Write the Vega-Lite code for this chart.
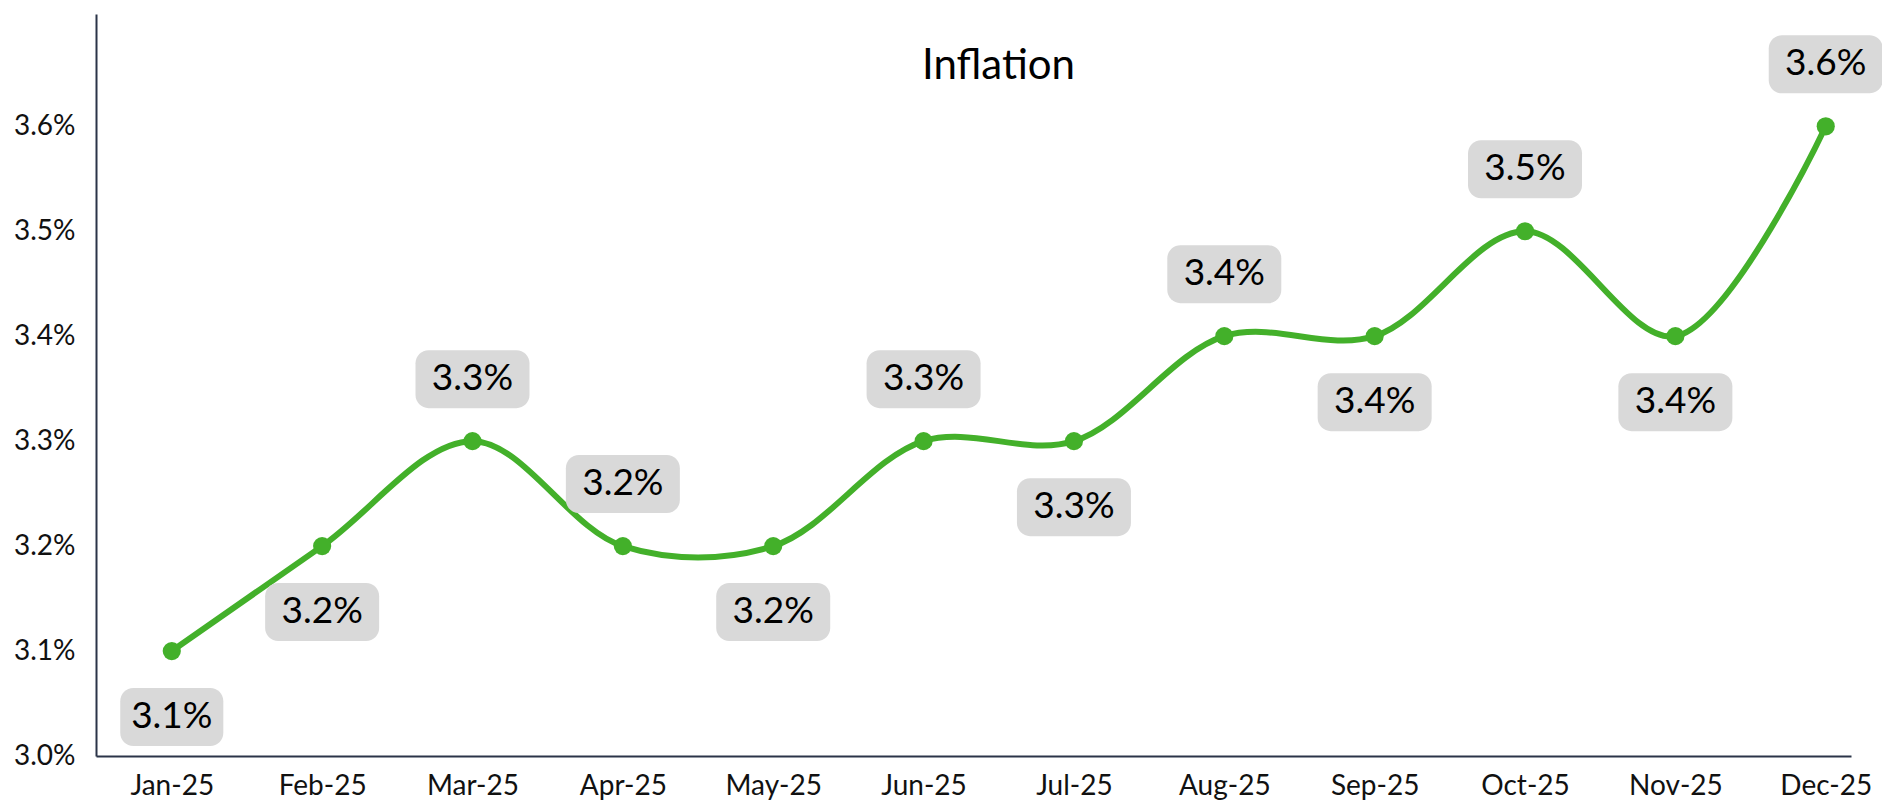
{
  "$schema": "https://vega.github.io/schema/vega-lite/v6.json",
  "autosize": {"type": "none"},
  "width": 1755,
  "height": 742,
  "padding": {"left": 96, "top": 14, "right": 31, "bottom": 54},
  "background": "white",
  "config": {"view": {"stroke": null}, "font": "Lato"},
  "title": {"text": "Inflation", "anchor": "middle", "frame": "group", "fontSize": 42, "fontWeight": "normal", "font": "Lato", "color": "#000000", "baseline": "alphabetic", "offset": -107, "dx": 25},
  "data": {"values": [
    {"month": "Jan-25", "value": 3.1, "label": "3.1%", "placement": "below"},
    {"month": "Feb-25", "value": 3.2, "label": "3.2%", "placement": "below"},
    {"month": "Mar-25", "value": 3.3, "label": "3.3%", "placement": "above"},
    {"month": "Apr-25", "value": 3.2, "label": "3.2%", "placement": "above"},
    {"month": "May-25", "value": 3.2, "label": "3.2%", "placement": "below"},
    {"month": "Jun-25", "value": 3.3, "label": "3.3%", "placement": "above"},
    {"month": "Jul-25", "value": 3.3, "label": "3.3%", "placement": "below"},
    {"month": "Aug-25", "value": 3.4, "label": "3.4%", "placement": "above"},
    {"month": "Sep-25", "value": 3.4, "label": "3.4%", "placement": "below"},
    {"month": "Oct-25", "value": 3.5, "label": "3.5%", "placement": "above"},
    {"month": "Nov-25", "value": 3.4, "label": "3.4%", "placement": "below"},
    {"month": "Dec-25", "value": 3.6, "label": "3.6%", "placement": "above"}
  ]},
  "encoding": {
    "x": {"field": "month", "type": "ordinal", "sort": null,
      "scale": {"type": "point", "padding": 0.336, "align": 0.75},
      "axis": {"title": null, "labelAngle": 0, "ticks": false, "tickSize": 0, "labelPadding": 16, "labelFontSize": 28, "labelFont": "Lato", "labelColor": "#111111", "domainColor": "#2b3448", "domainWidth": 2, "grid": false}},
    "y": {"field": "value", "type": "quantitative",
      "scale": {"domain": [3.0, 3.707], "zero": false, "nice": false},
      "axis": {"title": null, "values": [3.0, 3.1, 3.2, 3.3, 3.4, 3.5, 3.6], "labelExpr": "format(datum.value, '.1f') + '%'", "ticks": false, "tickSize": 0, "labelPadding": 21, "labelFontSize": 28, "labelFont": "Lato", "labelColor": "#111111", "domainColor": "#2b3448", "domainWidth": 2, "grid": false}}
  },
  "layer": [
    {"mark": {"type": "line", "interpolate": "catmull-rom", "color": "#43b02a", "strokeWidth": 6}},
    {"mark": {"type": "point", "filled": true, "color": "#43b02a", "opacity": 1, "size": 330, "shape": "circle", "strokeWidth": 0}},
    {"transform": [{"filter": "datum.placement == 'above'"}],
     "mark": {"type": "point", "filled": true, "color": "#d9d9d9", "opacity": 1, "strokeWidth": 0, "size": 12996, "yOffset": -62,
       "shape": "M-0.77,-0.509 L0.77,-0.509 A0.23,0.23 0 0 1 1,-0.279 L1,0.279 A0.23,0.23 0 0 1 0.77,0.509 L-0.77,0.509 A0.23,0.23 0 0 1 -1,0.279 L-1,-0.279 A0.23,0.23 0 0 1 -0.77,-0.509 Z"}},
    {"transform": [{"filter": "datum.placement == 'below'"}],
     "mark": {"type": "point", "filled": true, "color": "#d9d9d9", "opacity": 1, "strokeWidth": 0, "size": 12996, "yOffset": 66},
     "encoding": {"shape": {"condition": {"test": "datum.label == '3.1%'", "value": "M-0.674,-0.509 L0.674,-0.509 A0.23,0.23 0 0 1 0.904,-0.279 L0.904,0.279 A0.23,0.23 0 0 1 0.674,0.509 L-0.674,0.509 A0.23,0.23 0 0 1 -0.904,0.279 L-0.904,-0.279 A0.23,0.23 0 0 1 -0.674,-0.509 Z"}, "value": "M-0.77,-0.509 L0.77,-0.509 A0.23,0.23 0 0 1 1,-0.279 L1,0.279 A0.23,0.23 0 0 1 0.77,0.509 L-0.77,0.509 A0.23,0.23 0 0 1 -1,0.279 L-1,-0.279 A0.23,0.23 0 0 1 -0.77,-0.509 Z"}}},
    {"transform": [{"filter": "datum.placement == 'above'"}],
     "mark": {"type": "text", "fontSize": 37, "font": "Lato", "color": "#000000", "baseline": "middle", "align": "center", "dy": -62},
     "encoding": {"text": {"field": "label"}}},
    {"transform": [{"filter": "datum.placement == 'below'"}],
     "mark": {"type": "text", "fontSize": 37, "font": "Lato", "color": "#000000", "baseline": "middle", "align": "center", "dy": 66},
     "encoding": {"text": {"field": "label"}}}
  ]
}
